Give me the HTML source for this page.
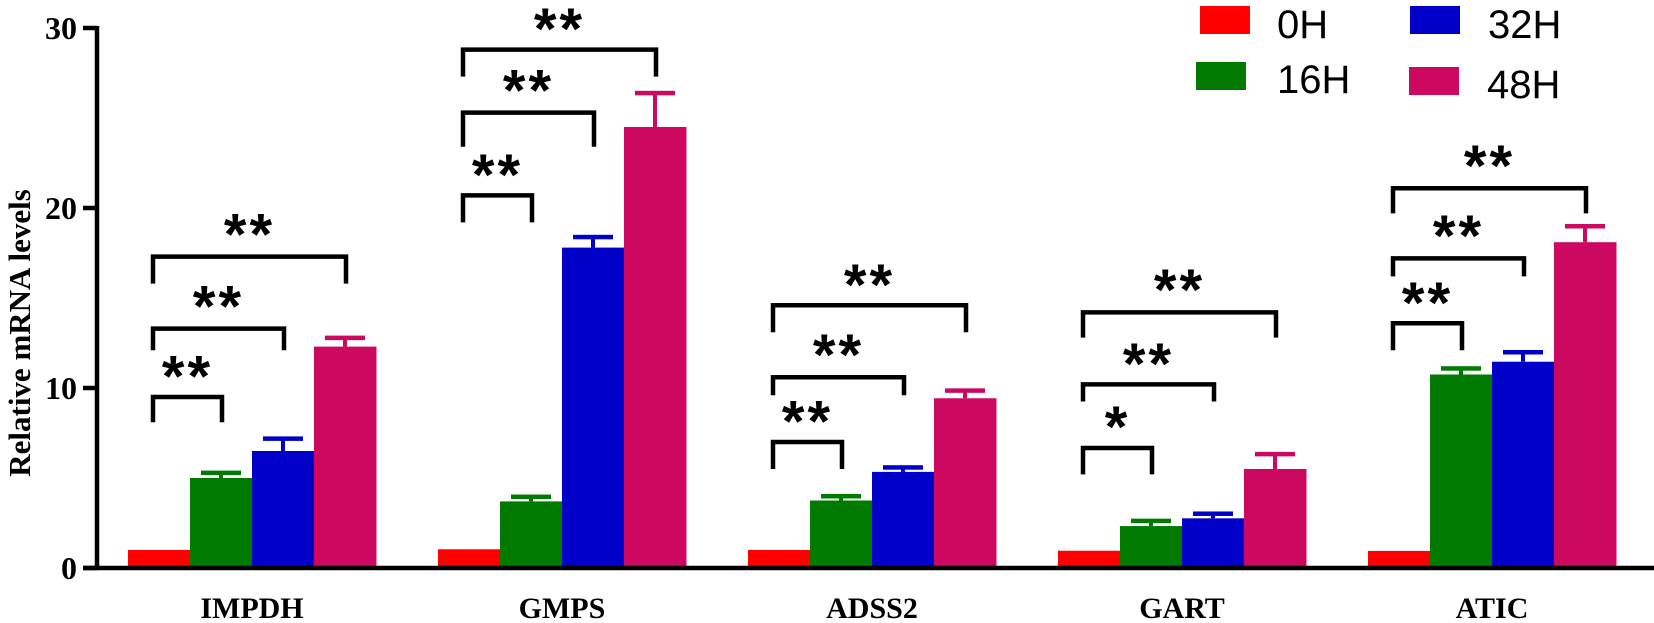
<!DOCTYPE html>
<html><head><meta charset="utf-8">
<style>
html,body{margin:0;padding:0;background:#fff;}
svg{display:block;}
</style></head>
<body>
<svg id="chart" width="1654" height="623" viewBox="0 0 1654 623" xmlns="http://www.w3.org/2000/svg">
<g id="plot"></g>
</svg>
<script>
const categories = ["IMPDH","GMPS","ADSS2","GART","ATIC"];
const seriesNames = ["0H","16H","32H","48H"];
const means0 = [1.0, 1.04, 1.0, 0.96, 0.95];
const means16 = [5.0, 3.7, 3.75, 2.33, 10.75];
const means32 = [6.5, 17.8, 5.34, 2.76, 11.46];
const means48 = [12.3, 24.5, 9.43, 5.5, 18.1];
const err16 = [5.3, 3.97, 4.0, 2.63, 11.1];
const err32 = [7.2, 18.4, 5.6, 3.03, 12.0];
const err48 = [12.8, 26.4, 9.87, 6.34, 19.0];
const yTicks = [0, 10, 20, 30];
// significance brackets: [category index, target series, top value, leg bottom value, label, star center value]
const sigBrackets = [
 [0,1,9.5,8.1,"**",11.3],[0,2,13.3,12.1,"**",15.2],[0,3,17.3,15.8,"**",19.2],
 [1,1,20.7,19.2,"**",22.5],[1,2,25.3,23.4,"**",27.2],[1,3,28.8,27.3,"**",30.6],
 [2,1,7.0,5.5,"**",8.8],[2,2,10.6,9.6,"**",12.5],[2,3,14.6,13.1,"**",16.4],
 [3,1,6.67,5.2,"*",8.5],[3,2,10.2,9.25,"**",12.0],[3,3,14.2,12.8,"**",16.1],
 [4,1,13.6,12.1,"**",15.4],[4,2,17.2,16.2,"**",19.1],[4,3,21.1,19.7,"**",23.0]
];
const colors = ["#ff0000","#007a00","#0000c8","#cc0860"];

const NS = "http://www.w3.org/2000/svg";
const g = document.getElementById("plot");
const x0 = 128, groupStep = 310, barW = 62, axisX = 97, baseY = 568, topY = 28, yMax = 30;
function y(v){ return baseY - v/yMax*(baseY-topY); }
function barX(ci, si){ return x0 + ci*groupStep + si*barW; }
function mk(tag, attrs, parent){
  const el = document.createElementNS(NS, tag);
  for (const k in attrs) el.setAttribute(k, attrs[k]);
  (parent||g).appendChild(el); return el;
}
const means = [means0, means16, means32, means48];
const errs = [null, err16, err32, err48];

means.forEach((arr, si) => {
  arr.forEach((v, ci) => {
    const r = mk("rect", {x: barX(ci,si), y: y(v), width: barW+0.5, height: baseY - y(v), fill: colors[si]});
    
    
    if (errs[si]) {
      const cx = barX(ci,si) + barW/2, e = errs[si][ci];
      const eg = mk("g", {fill: colors[si]});
      
      
      mk("rect", {x: cx-2, y: y(e), width: 4, height: y(v)-y(e)}, eg);
      mk("rect", {x: cx-20, y: y(e)-2, width: 40, height: 4.5}, eg);
    }
  });
});

const ax = mk("g", {stroke: "#000", "stroke-width": 4.5, fill: "none"});


mk("line", {x1: axisX, y1: topY-2, x2: axisX, y2: baseY+2}, ax);
mk("line", {x1: 83, y1: baseY, x2: 1654, y2: baseY}, ax);
yTicks.forEach(t => {
  const tl = mk("line", {x1: 83, y1: y(t), x2: axisX, y2: y(t)}, ax);
  
  
  const tx = mk("text", {x: 77, y: y(t)+11, "text-anchor": "end", "font-family": "Liberation Serif, serif", "font-weight": "bold", "font-size": 32, fill: "#000"});
  tx.textContent = t;
  
  
});
const yt = mk("text", {x: 0, y: 0, transform: "translate(30,333) rotate(-90)", "text-anchor": "middle", "font-family": "Liberation Serif, serif", "font-weight": "bold", "font-size": 31, fill: "#000"});
yt.textContent = "Relative mRNA levels";



categories.forEach((c, ci) => {
  const t = mk("text", {x: barX(ci,2), y: 618, "text-anchor": "middle", "font-family": "Liberation Serif, serif", "font-weight": "bold", "font-size": 30, fill: "#000"});
  t.textContent = c;
  
  
});

sigBrackets.forEach(b => {
  const [ci, si, top, bot, lab, sc] = b;
  const xl = barX(ci,0) + barW/2 - 6, xr = barX(ci,si) + barW/2 + 1;
  const bg = mk("g", {});
  
  
  mk("polyline", {points: `${xl},${y(bot)} ${xl},${y(top)} ${xr},${y(top)} ${xr},${y(bot)}`, fill: "none", stroke: "#000", "stroke-width": 4.5}, bg);
  const st = mk("text", {x: (xl+xr)/2, y: y(sc)+32, "text-anchor": "middle", "font-family": "Liberation Sans, sans-serif", "font-weight": "bold", "font-size": 58, "letter-spacing": 3, fill: "#000"}, bg);
  st.textContent = lab;
});

const legendPos = [[1200,6,1277,38],[1196,62,1277,93],[1410,6,1488,38],[1409,67,1487,98]];
seriesNames.forEach((n, si) => {
  const lg = mk("g", {});
  
  
  const p = legendPos[si];
  mk("rect", {x: p[0], y: p[1], width: 50, height: 28, fill: colors[si]}, lg);
  const t = mk("text", {x: p[2], y: p[3], "font-family": "Liberation Sans, sans-serif", "font-size": 40, fill: "#000"}, lg);
  t.textContent = n;
});
</script>
</body></html>
